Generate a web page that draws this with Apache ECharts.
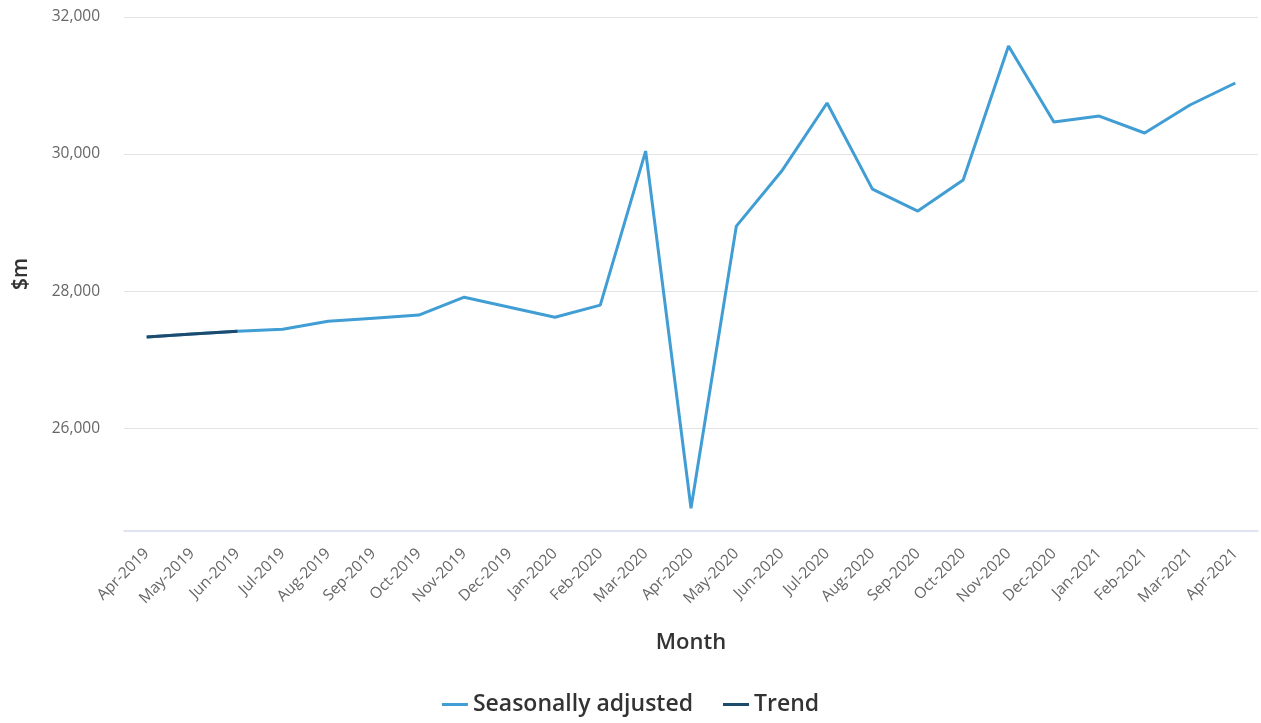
<!DOCTYPE html>
<html>
<head>
<meta charset="utf-8">
<script src="https://cdn.jsdelivr.net/npm/echarts@6/dist/echarts.min.js"></script>
<style>
  html, body { margin: 0; padding: 0; background: #ffffff; }
  #chart { width: 1261px; height: 723px; }
</style>
</head>
<body>
<div id="chart"></div>
<script>
// Monthly values, $m
const months = [
  'Apr-2019', 'May-2019', 'Jun-2019', 'Jul-2019', 'Aug-2019', 'Sep-2019',
  'Oct-2019', 'Nov-2019', 'Dec-2019', 'Jan-2020', 'Feb-2020', 'Mar-2020',
  'Apr-2020', 'May-2020', 'Jun-2020', 'Jul-2020', 'Aug-2020', 'Sep-2020',
  'Oct-2020', 'Nov-2020', 'Dec-2020', 'Jan-2021', 'Feb-2021', 'Mar-2021',
  'Apr-2021'
];
const seasonallyAdjusted = [
  27330, 27375, 27416, 27445, 27562, 27606,
  27650, 27912, 27766, 27620, 27796, 30044,
  24832, 28949, 29752, 30745, 29489, 29168,
  29621, 31577, 30468, 30555, 30307, 30716,
  31037
];
const trend = [27330, 27375, 27416];

const yTickValues = [26000, 28000, 30000, 32000];

const chart = echarts.init(document.getElementById('chart'));
const labelFont = '"Open Sans", "Noto Sans", sans-serif';

chart.setOption({
  animation: false,
  textStyle: { fontFamily: labelFont },
  grid: { left: 124, right: 3, top: 17, bottom: 192, containLabel: false },
  legend: {
    bottom: 2,
    left: 'center',
    itemWidth: 26,
    itemHeight: 3,
    itemGap: 30,
    icon: 'rect',
    textStyle: { fontSize: 23, fontWeight: 600, color: '#333333', fontFamily: labelFont },
    data: ['Seasonally adjusted', 'Trend']
  },
  xAxis: {
    type: 'category',
    data: months,
    boundaryGap: true,
    name: 'Month',
    nameLocation: 'middle',
    nameGap: 101,
    nameTextStyle: { fontSize: 22, fontWeight: 600, color: '#333333', fontFamily: labelFont },
    axisLine: { lineStyle: { color: '#d3dcee', width: 1.5 } },
    axisTick: { show: false },
    axisLabel: {
      interval: 0,
      rotate: 45,
      fontSize: 15.5,
      color: '#666666',
      margin: 20
    },
    splitLine: { show: false }
  },
  yAxis: {
    type: 'value',
    min: 24500,
    max: 32000,
    interval: 500,
    name: '$m',
    nameLocation: 'middle',
    nameGap: 92,
    nameRotate: 90,
    nameTextStyle: { fontSize: 21, fontWeight: 600, color: '#333333', fontFamily: labelFont },
    axisLine: { show: false },
    axisTick: { show: false },
    axisLabel: {
      fontSize: 15.5,
      color: '#666666',
      margin: 24,
      formatter: function (v) {
        return yTickValues.indexOf(v) >= 0 ? v.toLocaleString('en-US') : '';
      }
    },
    splitLine: {
      show: true,
      lineStyle: {
        width: 1,
        color: ['rgba(0,0,0,0)', 'rgba(0,0,0,0)', 'rgba(0,0,0,0)', '#e3e3e3']
      }
    }
  },
  series: [
    {
      name: 'Seasonally adjusted',
      type: 'line',
      data: seasonallyAdjusted,
      showSymbol: false,
      symbol: 'none',
      color: '#419ed4',
      lineStyle: { width: 3, color: '#419ed4' },
      z: 2
    },
    {
      name: 'Trend',
      type: 'line',
      data: trend,
      showSymbol: false,
      symbol: 'none',
      color: '#1c4b6e',
      lineStyle: { width: 3, color: '#1c4b6e' },
      z: 3
    }
  ]
});
</script>
</body>
</html>
